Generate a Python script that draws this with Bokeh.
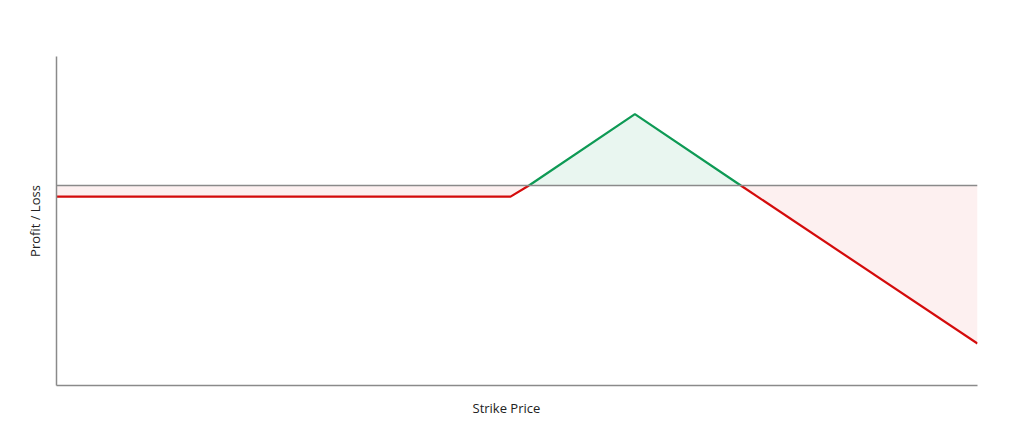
from bokeh.plotting import figure
from bokeh.models import Range1d, Span, FixedTicker, Title
from bokeh.embed import file_html
from bokeh.resources import INLINE

# Payoff vertices (strike price vs profit / loss)
strike = [0, 49.3, 51.3, 62.8, 74.3, 100]
pnl = [-1.8, -1.8, 0, 11.5, 0, -25.5]

x_title = "Strike Price"
y_title = "Profit / Loss"

loss_left = slice(0, 3)
profit = slice(2, 5)
loss_right = slice(4, 6)

RED = "#d40b0b"
GREEN = "#0e9a55"
RED_FILL = "#fdf0f0"
GREEN_FILL = "#e9f6f0"
GRAY = "#8a8a8a"

p = figure(width=1010, height=431, output_backend="svg", toolbar_location=None,
           x_range=Range1d(0, 100), y_range=Range1d(-32.26, 20.8),
           min_border_left=56, min_border_top=56, min_border_right=33, min_border_bottom=46)
p.outline_line_color = None
p.grid.grid_line_color = None
p.background_fill_color = "white"
p.border_fill_color = "white"

for s, fill in ((loss_left, RED_FILL), (profit, GREEN_FILL), (loss_right, RED_FILL)):
    xs = strike[s]
    ys = pnl[s]
    p.varea(x=xs, y1=ys, y2=[0] * len(xs), fill_color=fill, fill_alpha=1.0)

p.add_layout(Span(location=0, dimension="width", line_color=GRAY, line_width=1.5))

p.line(strike[loss_left], pnl[loss_left], line_color=RED, line_width=2.2)
p.line(strike[profit], pnl[profit], line_color=GREEN, line_width=2.2)
p.line(strike[loss_right], pnl[loss_right], line_color=RED, line_width=2.2)

for ax in (p.xaxis, p.yaxis):
    ax.ticker = FixedTicker(ticks=[])
    ax.axis_line_color = GRAY
    ax.axis_line_width = 1.5
    ax.major_tick_line_color = None
    ax.minor_tick_line_color = None
    ax.major_label_text_font_size = "0px"
    ax.axis_label_text_font = "Open Sans"
    ax.axis_label_text_font_style = "normal"
    ax.axis_label_text_font_size = "13px"
    ax.axis_label_text_color = "#222222"

p.yaxis.axis_label = y_title
p.yaxis.axis_label_standoff = 13

p.add_layout(Title(text=x_title, align="left", offset=416, standoff=23,
                   text_font="Open Sans", text_font_style="normal",
                   text_font_size="13px", text_color="#222222"), "below")

open("out.html", "w").write(file_html(p, INLINE))
